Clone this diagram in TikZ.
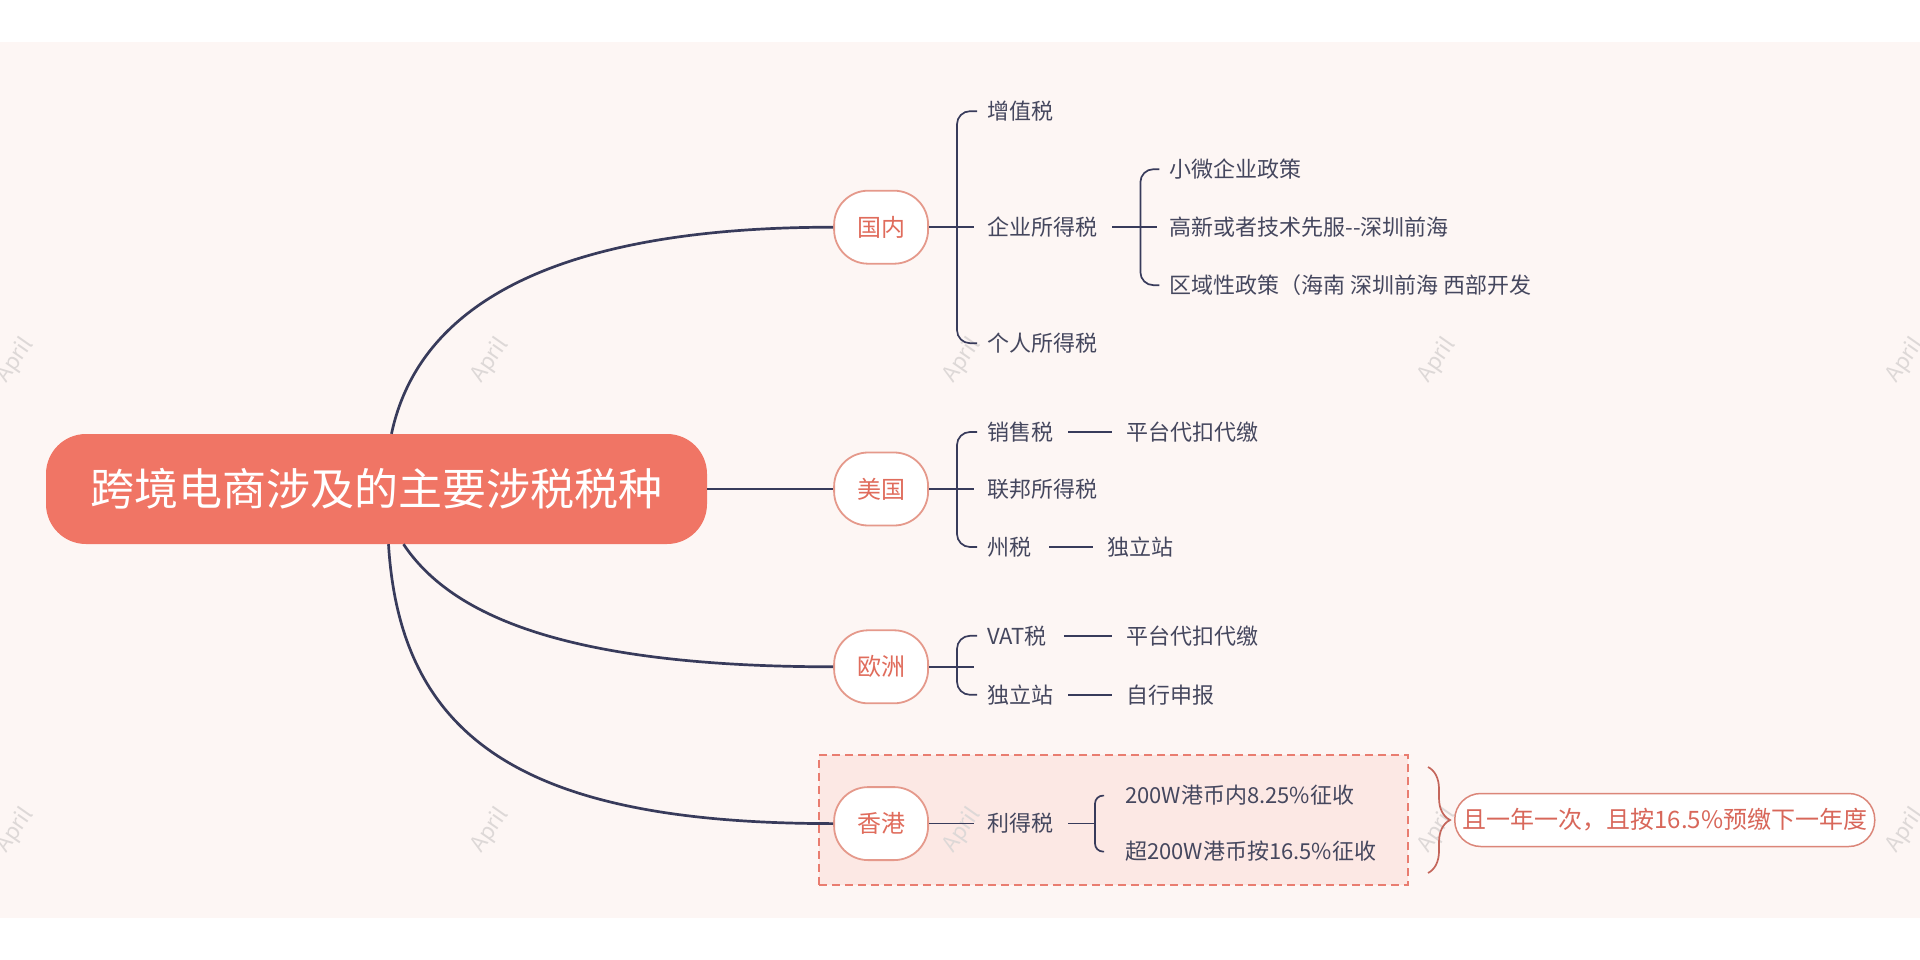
\documentclass[tikz,border=0pt]{standalone}
\usepackage{fontspec}
\setmainfont{Noto Sans CJK SC}
\usepackage{xcolor}
\usetikzlibrary{positioning,decorations.pathreplacing}

\definecolor{bgpink}{HTML}{FDF6F4}
\definecolor{rootred}{HTML}{F07565}
\definecolor{areaedge}{HTML}{E5998B}
\definecolor{areatext}{HTML}{E06C5C}
\definecolor{navy}{HTML}{383B5B}
\definecolor{leafgray}{HTML}{45475E}
\definecolor{dashred}{HTML}{E97D70}
\definecolor{hlfill}{HTML}{FCE8E4}
\definecolor{notetext}{HTML}{D8675A}
\definecolor{noteedge}{HTML}{DB8679}
\definecolor{bracered}{HTML}{C4665B}
\definecolor{wmgray}{HTML}{DDD8D7}

\begin{document}
\begin{tikzpicture}[
  x=1pt, y=-1pt,
  node distance=58pt,
  root/.style={fill=rootred, text=white, rounded corners=40pt, minimum width=661pt, minimum height=110pt, inner sep=0pt, font=\fontsize{44}{50}\selectfont},
  area/.style={draw=areaedge, line width=1.8pt, fill=white, text=areatext, rounded corners=34pt, minimum width=94pt, minimum height=73pt, inner sep=0pt, font=\fontsize{24}{28}\selectfont},
  leaf/.style={text=leafgray, inner sep=0pt, anchor=west, font=\fontsize{22}{26}\selectfont},
  note/.style={draw=noteedge, line width=1.5pt, fill=white, text=notetext, rounded corners=26pt, minimum width=420pt, minimum height=53pt, inner sep=0pt, font=\fontsize{24}{28}\selectfont},
  trunk/.style={draw=navy, line width=2.7pt},
  twig/.style={draw=navy, line width=1.7pt},
  brk/.style={twig, rounded corners=13pt},
  rbrace/.style={draw=bracered, line width=1.7pt, decorate, decoration={brace, amplitude=22pt, aspect=0.5}},
  hlbox/.style={draw=dashred, dash pattern=on 8pt off 5pt, line width=2pt, fill=hlfill, minimum width=589pt, minimum height=130pt, inner sep=0pt},
  wmark/.style={text=wmgray, rotate=55, font=\fontsize{22}{26}\selectfont}
]
  % page and background
  \useasboundingbox (0,0) rectangle (1920,960);
  \fill[white] (0,0) rectangle (1920,960);
  \fill[bgpink] (0,42) rectangle (1920,918);
  \node[hlbox] (hkbox) at (1113.5,820) {};
  \foreach \wx in {15,490,962,1437,1905}
    \foreach \wy in {360,830}
      \node[wmark] (wm-\wx-\wy) at (\wx,\wy) {April};

  % root and regions
  \node[root] (root) at (376.5,489) {跨境电商涉及的主要涉税税种};
  \node[area, right=126pt of root] (us) {美国};
  \node[area, above=187pt of us] (gn) {国内};
  \node[area, below=103pt of us] (eu) {欧洲};
  \node[area, below=82pt of eu] (hk) {香港};

  % 国内
  \node[leaf, right=58pt of gn] (qy) {企业所得税};
  \node[leaf] (zz) at ([yshift=116pt]qy.west) {增值税};
  \node[leaf] (gr) at ([yshift=-116pt]qy.west) {个人所得税};
  \node[leaf, right=72pt of qy] (gx) {高新或者技术先服-\kern0pt-深圳前海};
  \node[leaf] (xw) at ([yshift=58pt]gx.west) {小微企业政策};
  \node[leaf] (qf) at ([yshift=-58pt]gx.west) {区域性政策（海南 深圳前海 西部开发};

  % 美国
  \node[leaf, right=58pt of us] (lb) {联邦所得税};
  \node[leaf] (xs) at ([yshift=57pt]lb.west) {销售税};
  \node[leaf] (zs) at ([yshift=-58pt]lb.west) {州税};
  \node[leaf, right=73pt of xs] (pt1) {平台代扣代缴};
  \node[leaf, right=76pt of zs] (dl1) {独立站};

  % 欧洲
  \node[leaf] (vat) at ([xshift=58pt,yshift=31pt]eu.east) {VAT税};
  \node[leaf] (ds) at ([xshift=58pt,yshift=-28pt]eu.east) {独立站};
  \node[leaf] (pt2) at (pt1.west |- vat.west) {平台代扣代缴};
  \node[leaf] (zx) at (pt1.west |- ds.west) {自行申报};
  \coordinate (euj) at ([xshift=45pt]eu.east);
  \coordinate (eub) at ([xshift=28pt]eu.east);

  % 香港
  \node[leaf, right=58pt of hk] (ld) {利得税};
  \node[leaf] (c1) at ([xshift=138pt,yshift=28pt]ld.west) {200W港币内8.25\%征收};
  \node[leaf] (c2) at ([xshift=138pt,yshift=-28pt]ld.west) {超200W港币按16.5\%征收};
  \coordinate (ldb) at ([xshift=108pt]ld.west);
  \node[note, right=45pt of hkbox] (nt) {且一年一次，且按16.5\%预缴下一年度};

  % trunks
  \draw[trunk] ([xshift=15pt]root.north) .. controls +(28,-132) and +(-273,0) .. (gn.west);
  \draw[trunk] (root) -- (us);
  \draw[trunk] ([xshift=27pt]root.south) .. controls +(46,69) and +(-273,0) .. (eu.west);
  \draw[trunk] ([xshift=12pt]root.south) .. controls +(12,199) and +(-303,0) .. (hk.west);

  % braces and twigs
  \draw[twig] (gn) -- ([xshift=-13pt]qy.west);
  \draw[brk] ([xshift=-10pt]zz.west) -| ([xshift=-30pt]qy.west) |- ([xshift=-10pt]gr.west);
  \draw[twig] ([xshift=15pt]qy.east) -- ([xshift=-12pt]gx.west);
  \draw[brk] ([xshift=-10pt]xw.west) -| ([xshift=-29pt]gx.west) |- ([xshift=-10pt]qf.west);

  \draw[twig] (us) -- ([xshift=-13pt]lb.west);
  \draw[brk] ([xshift=-10pt]xs.west) -| ([xshift=-30pt]lb.west) |- ([xshift=-10pt]zs.west);
  \draw[twig] ([xshift=15pt]xs.east) -- ([xshift=-14pt]pt1.west);
  \draw[twig] ([xshift=18pt]zs.east) -- ([xshift=-14pt]dl1.west);

  \draw[twig] (eu) -- (euj);
  \draw[brk] ([xshift=-10pt]vat.west) -| (eub) |- ([xshift=-10pt]ds.west);
  \draw[twig] ([xshift=17pt]vat.east) -- ([xshift=-14pt]pt2.west);
  \draw[twig] ([xshift=15pt]ds.east) -- ([xshift=-14pt]zx.west);

  \draw[twig] (hk) -- ([xshift=-13pt]ld.west);
  \draw[twig] ([xshift=15pt]ld.east) -- (ldb);
  \draw[brk, rounded corners=8pt] ([xshift=-21pt]c1.west) -| (ldb) |- ([xshift=-21pt]c2.west);
  \draw[rbrace] ([xshift=19pt,yshift=-13pt]hkbox.north east) -- ([xshift=19pt,yshift=13pt]hkbox.south east);
\end{tikzpicture}
\end{document}
